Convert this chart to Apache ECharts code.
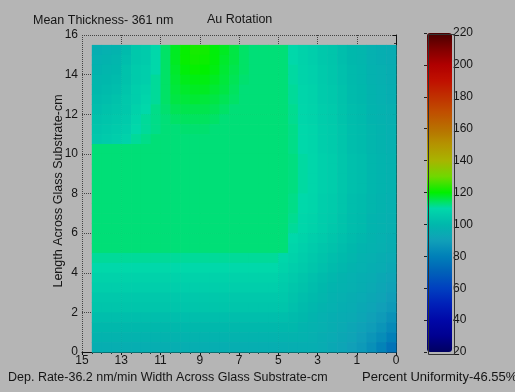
<!DOCTYPE html>
<html><head><meta charset="utf-8">
<script src="https://cdn.jsdelivr.net/npm/echarts@6/dist/echarts.min.js"></script>
<style>html,body{margin:0;padding:0;background:#b5b5b5;}#c{width:515px;height:392px;}</style>
</head><body><div id="c"></div>
<script>
// Cell centres (cm). Columns: left (x=15.25) to right (x=0.25); rows: top (y=15.25) to bottom (y=0.25)
const xCells = [15.25,14.75,14.25,13.75,13.25,12.75,12.25,11.75,11.25,10.75,10.25,9.75,9.25,8.75,8.25,7.75,7.25,6.75,6.25,5.75,5.25,4.75,4.25,3.75,3.25,2.75,2.25,1.75,1.25,0.75,0.25];
const yCells = [15.25,14.75,14.25,13.75,13.25,12.75,12.25,11.75,11.25,10.75,10.25,9.75,9.25,8.75,8.25,7.75,7.25,6.75,6.25,5.75,5.25,4.75,4.25,3.75,3.25,2.75,2.25,1.75,1.25,0.75,0.25];
const thicknessRows = [
[96,97,98,101,105,106,110,114,118,120.5,122,121.5,119.5,118,116,114,113,113,113,113,110,108,107,105,104,102,100,99,97,96,95],
[97,98,99,102,105,106,110,114,118,120.5,121.5,121,119.5,117.5,116,114,113,113,113,113,110,108,107,105,104,102,100,99,97,96,95],
[98,99,100,103,106,107,110,114,117.5,119.5,120.5,120,119,117,115.5,114,113,113,113,113,110.5,108.5,107.5,105.5,104.5,102.5,100.5,99.5,97.5,96.5,95.5],
[99,100,101,103,106,107,111,114,117,118.5,119,119,118,116.5,115,113.5,113,113,113,113,110.5,108.5,107.5,105.5,104.5,102.5,100.5,99.5,97.5,96.5,95.5],
[100,101,102,104,107,108,111,114,116.5,117.5,118,118,117,116,114.5,113,113,113,113,113,111,109,108,106,105,103,101,100,98,97,96],
[101,102,103,105,107,109,111,114,116,116.5,117,116.5,116,115,114,113,113,113,113,113,111,109,108,106,105,103,101,100,98,97,96],
[102,103,104,105,108,110,112,113.5,115,115.5,115.5,115.5,115,114,113,113,113,113,113,113,111.5,109.5,108.5,106.5,105.5,103.5,101.5,100.5,98.5,97.5,96.5],
[103,104,105,106,109,111,112,113,114,114.5,114.5,114.5,114,113,113,113,113,113,113,113,111.5,109.5,108.5,106.5,105.5,103.5,101.5,100.5,98.5,97.5,96.5],
[104,105,106,107,110,111,112,113,113,113.5,113.5,113.5,113,113,113,113,113,113,113,113,112,110,109,107,106,104,102,101,99,98,97],
[105,106,107,108,111,112,113,113,113,113,113,113,113,113,113,113,113,113,113,113,112,110,109,107,106,104,102,101,99,98,97],
[113,113,113,113,113,113,113,113,113,113,113,113,113,113,113,113,113,113,113,113,112,110,109,107,106,104,102,101,99,98,97],
[113,113,113,113,113,113,113,113,113,113,113,113,113,113,113,113,113,113,113,113,112.5,110.5,109.5,107.5,106.5,104.5,102.5,101.5,99.5,98.5,97.5],
[113,113,113,113,113,113,113,113,113,113,113,113,113,113,113,113,113,113,113,113,112.5,110.5,109.5,107.5,106.5,104.5,102.5,101.5,99.5,98.5,97.5],
[113,113,113,113,113,113,113,113,113,113,113,113,113,113,113,113,113,113,113,113,112.5,110.5,109.5,107.5,106.5,104.5,102.5,101.5,99.5,98.5,97.5],
[113,113,113,113,113,113,113,113,113,113,113,113,113,113,113,113,113,113,113,113,112.5,110.5,109.5,107.5,106.5,104.5,102.5,101.5,99.5,98.5,97.5],
[113,113,113,113,113,113,113,113,113,113,113,113,113,113,113,113,113,113,113,113,112,110,109,107,106,104,102,101,99,98,97],
[113,113,113,113,113,113,113,113,113,113,113,113,113,113,113,113,113,113,113,113,112,110,109,107,106,104,102,101,99,98,97],
[113,113,113,113,113,113,113,113,113,113,113,113,113,113,113,113,113,113,113,113,111.5,109.5,108.5,106.5,105.5,103.5,101.5,100.5,98.5,97.5,96.5],
[113,113,113,113,113,113,113,113,113,113,113,113,113,113,113,113,113,113,113,113,111,109.5,108,106.5,105,103.5,101.5,100.5,98.5,97.5,96.5],
[113,113,113,113,113,113,113,113,113,113,113,113,113,113,113,113,113,113,113,113,110,108.5,107,105.5,104,102.5,101,99.5,98,97,96],
[113,113,113,113,113,113,113,113,113,113,113,113,113,113,113,113,113,113,113,113,109,107.5,106,104.5,103,101.5,100,98.5,97.5,96.5,95.5],
[111,111,111,111,111,111,111,111,111,111,111,111,111,111,111,111,111,111,111,109.5,108,106.5,105,103.5,102,100.5,99,97.5,96.5,95.5,94.5],
[110,110,110,110,110,110,110,110,110,110,110,110,110,110,110,110,110,110,110,108.5,107,105.5,104,102.5,101,99.5,98,97,96,95,93.5],
[108,108,108,108,108,108,108,108,108,108,108,108,108,108,108,108,108,108,108,107,105.5,104,102.5,101,99.5,98,97,96,95,93.5,92],
[107,107,107,107,107,107,107,107,107,107,107,107,107,107,107,107,107,107,107,106,104.5,103,101.5,100,98.5,97.5,96.5,95.5,94,92.5,91],
[105,105,105,105,105,105,105,105,105,105,105,105,105,105,105,105,105,105,105,105,103.5,102,100.5,99,97.5,96.5,95.5,94.5,93,91.5,89.5],
[104,104,104,104,104,104,104,104,104,104,104,104,104,104,104,104,104,104,104,104,102.5,101,99.5,98,97,96,95,93.5,92,90,88],
[102,102,102,102,102,102,102,102,102,102,102,102,102,102,102,102,102,102,102,102,101,100,98.5,97,96,95,94,92.5,90.5,88.5,85.5],
[100,100,100,100,100,100,100,100,100,100,100,100,100,100,100,100,100,100,100,100,100,98.5,97.5,96.5,95.5,94,92.5,91,89,86.5,83],
[98,98,98,98,98,98,98,98,98,98,98,98,98,98,98,98,98,98,98,98,98,97.5,96.5,95.5,94.5,93,91.5,89.5,87,84,80],
[96,96,96,96,96,96,96,96,96,96,96,96,96,96,96,96,96,96,96,96,96,96,96,95,93.5,92,90,88,85,81,76]
];
const xTickValues = [16,14,12,10,8,6,4,2,0];
const xTickLabels = ['15','13','11','9','7','5','3','1','0'];
const colorbarMin = 20, colorbarMax = 220, colorbarStep = 20;
const jetColors = ['#000060','#000090','#0008a8','#0020b8','#0040c0','#0060b8','#0080b8','#10a0b8','#00b8ac','#00d8aa','#00f000','#70d800','#a8b400','#b49400','#b87000','#c05000','#c03000','#c01000','#b00000','#800000','#480000'];

const cells = [];
yCells.forEach((y, r) => xCells.forEach((x, c) => cells.push([x, y, thicknessRows[r][c]])));
const halfW = Math.abs(xCells[1] - xCells[0]) / 2;
const halfH = Math.abs(yCells[1] - yCells[0]) / 2;

const FONT = 'Liberation Sans, Arial, sans-serif';
const TXT = '#151515';
const chart = echarts.init(document.getElementById('c'), null, {renderer: 'canvas'});
chart.setOption({
  backgroundColor: '#b5b5b5',
  animation: false,
  grid: [
    {left: 82, top: 35, width: 314, height: 317, show: false},
    {left: 427, top: 33, width: 25, height: 319, show: false}
  ],
  xAxis: [
    {type: 'value', gridIndex: 0, min: 0, max: 16, interval: 2, inverse: true,
     axisLine: {show: true, lineStyle: {color: '#111', width: 1}},
     axisTick: {show: true, length: 3, lineStyle: {color: '#111'}},
     minorTick: {show: true, splitNumber: 4, length: 2, lineStyle: {color: '#333'}},
     axisLabel: {margin: 3, fontSize: 12, color: TXT, fontFamily: FONT,
       formatter: v => { const i = xTickValues.indexOf(v); return i >= 0 ? xTickLabels[i] : ''; }},
     splitLine: {show: true, lineStyle: {color: '#444', type: 'dotted', width: 1}}},
    {type: 'value', gridIndex: 1, min: 0, max: 1, show: false}
  ],
  yAxis: [
    {type: 'value', gridIndex: 0, min: 0, max: 16, interval: 2,
     axisLine: {show: true, lineStyle: {color: '#111', width: 1}},
     axisTick: {show: true, length: 3, lineStyle: {color: '#111'}},
     minorTick: {show: true, splitNumber: 5, length: 2, lineStyle: {color: '#333'}},
     axisLabel: {margin: 4, fontSize: 12, color: TXT, fontFamily: FONT},
     splitLine: {show: true, lineStyle: {color: '#444', type: 'dotted', width: 1}}},
    {type: 'value', gridIndex: 1, min: colorbarMin, max: colorbarMax, interval: colorbarStep, position: 'right',
     axisLine: {show: false},
     axisTick: {show: true, inside: true, length: 3, lineStyle: {color: '#222'}},
     axisLabel: {margin: 1, fontSize: 12, color: TXT, fontFamily: FONT},
     splitLine: {show: false}}
  ],
  visualMap: {
    type: 'continuous', min: colorbarMin, max: colorbarMax, dimension: 2, seriesIndex: 0,
    calculable: false, text: null, showLabel: false,
    inRange: {color: jetColors},
    orient: 'vertical', left: 422, top: 28, itemWidth: 25, itemHeight: 319, padding: 5
  },
  graphic: [
    {type: 'rect', left: 426, top: 32, shape: {width: 26, height: 320}, z: 100, silent: true,
     style: {fill: 'none', stroke: '#333', lineWidth: 1}},
    {type: 'text', left: 33, top: 14, z: 100, style: {text: 'Mean Thickness- 361 nm', font: '12.5px ' + FONT, fill: TXT}},
    {type: 'text', left: 207, top: 13, z: 100, style: {text: 'Au Rotation', font: '12.5px ' + FONT, fill: TXT}},
    {type: 'text', left: 8, top: 371, z: 100, style: {text: 'Dep. Rate-36.2 nm/min Width Across Glass Substrate-cm', font: '12.5px ' + FONT, fill: TXT}},
    {type: 'text', left: 362, top: 371, z: 100, style: {text: 'Percent Uniformity-46.55%', font: '13px ' + FONT, fill: TXT}},
    {type: 'text', x: 59, y: 191, rotation: Math.PI / 2, z: 100,
     style: {text: 'Length Across Glass Substrate-cm', font: '12.5px ' + FONT, fill: TXT, textAlign: 'center', textVerticalAlign: 'middle'}}
  ],
  series: [{
    type: 'custom', xAxisIndex: 0, yAxisIndex: 0, data: cells,
    renderItem: (params, api) => {
      const x = api.value(0), y = api.value(1);
      const a = api.coord([x + halfW, y + halfH]);
      const b = api.coord([x - halfW, y - halfH]);
      return {type: 'rect',
        shape: {x: Math.min(a[0], b[0]), y: Math.min(a[1], b[1]), width: Math.abs(b[0] - a[0]) + 0.6, height: Math.abs(b[1] - a[1]) + 0.6},
        style: {fill: api.visual('color')}};
    }
  }]
});
</script></body></html>
